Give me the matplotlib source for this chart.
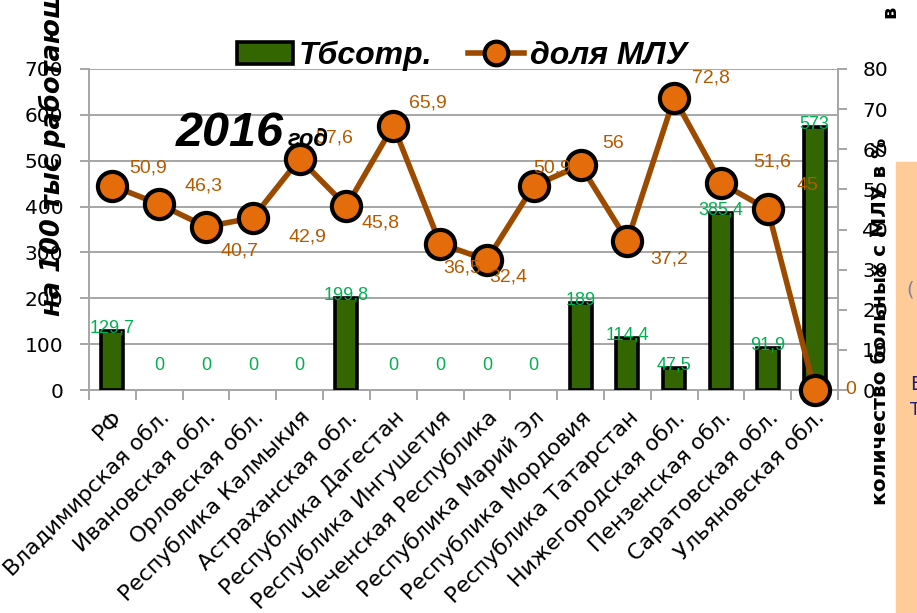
import numpy as np
import matplotlib.pyplot as plt
from matplotlib.patches import Patch, Rectangle
from matplotlib.lines import Line2D

# --- данные ---
regions = ["РФ", "Владимирская обл.", "Ивановская обл.", "Орловская обл.",
           "Республика Калмыкия", "Астраханская обл.", "Республика Дагестан",
           "Республика Ингушетия", "Чеченская Республика", "Республика Марий Эл",
           "Республика Мордовия", "Республика Татарстан", "Нижегородская обл.",
           "Пензенская обл.", "Саратовская обл.", "Ульяновская обл."]
tb_sotr = [129.7, 0, 0, 0, 0, 199.8, 0, 0, 0, 0, 189, 114.4, 47.5, 385.4, 91.9, 573]
mlu_share = [50.9, 46.3, 40.7, 42.9, 57.6, 45.8, 65.9, 36.5, 32.4, 50.9,
             56, 37.2, 72.8, 51.6, 45, 0]
# смещения подписей доли МЛУ (пиксели)
share_lbl_dx = [36, 44, 33, 55, 35, 34, 35, 22, 21, 18, 33, 42, 37, 51, 40, 36]
share_lbl_dy = [18, 18, -24, -19, 21, -17, 23, -24, -17, 18, 22, -18, 20, 21, 24, 0]

GREEN = '#336600'
BROWN_LINE = '#9C4A00'
ORANGE = '#E46C0A'
BROWN_TXT = '#B35A00'
LBL_GREEN = '#00B050'
GRID = '#A6A6A6'
CAL = 'Liberation Sans'

fig = plt.figure(figsize=(9.17, 6.13), dpi=100)
fig.patches.append(Rectangle((896 / 917, 0), 21 / 917, 1 - 162 / 613,
                             transform=fig.transFigure, color='#FFCC99', zorder=0))

ax = fig.add_axes([89 / 917, 1 - 390 / 613, 749 / 917, 321 / 613])
x = np.arange(len(regions))

bars = ax.bar(x, tb_sotr, width=0.47, color=GREEN, edgecolor='black', linewidth=2.6, zorder=3)
for b, v in zip(bars, tb_sotr):
    if v == 0:
        b.set_visible(False)
ax.set_xlim(-0.5, len(regions) - 0.5)
ax.set_ylim(0, 700)
ax.set_yticks(np.arange(0, 701, 100))
ax.grid(axis='y', color=GRID, linewidth=1.4)
ax.set_axisbelow(True)
for s in ['left', 'bottom', 'right']:
    ax.spines[s].set_color(GRID)
    ax.spines[s].set_linewidth(1.4)
ax.spines['top'].set_visible(False)
ax.tick_params(axis='y', length=6.5, width=1.4, color=GRID, labelsize=14.5, pad=12)
ax.set_xticks(x)
ax.set_xticklabels(regions, rotation=45, ha='right', rotation_mode='anchor', fontsize=15.8)
ax.tick_params(axis='x', which='major', length=0, pad=12)
ax.set_xticks(np.arange(-0.5, len(regions), 1), minor=True)
ax.tick_params(axis='x', which='minor', length=7, width=1.4, color=GRID)

for xi, v in zip(x, tb_sotr):
    txt = f"{v:g}".replace('.', ',')
    off = 3 if v > 0 else 24
    ax.annotate(txt, (xi, v), xytext=(0, off), textcoords='offset pixels',
                ha='center', va='center', color=LBL_GREEN, fontsize=13,
                family=CAL, zorder=6)

ax2 = ax.twinx()
ax2.set_ylim(0, 80)
ax2.set_yticks(np.arange(0, 81, 10))
ax2.spines['top'].set_visible(False)
ax2.spines['right'].set_color(GRID)
ax2.spines['right'].set_linewidth(1.4)
ax2.spines['left'].set_visible(False)
ax2.spines['bottom'].set_visible(False)
ax2.tick_params(axis='y', length=6.5, width=1.4, color=GRID, labelsize=14.5, pad=11)
ax2.plot(x, mlu_share, color=BROWN_LINE, linewidth=4, marker='o', markersize=21,
         markerfacecolor=ORANGE, markeredgecolor='black', markeredgewidth=3,
         clip_on=False, zorder=5)

for xi, v, dx, dy in zip(x, mlu_share, share_lbl_dx, share_lbl_dy):
    ax2.annotate(f"{v:g}".replace('.', ','), (xi, v), xytext=(dx, dy),
                 textcoords='offset pixels', ha='center', va='center',
                 color=BROWN_TXT, fontsize=14, family=CAL, zorder=7,
                 annotation_clip=False)

# заголовок
fig.text(176 / 917, 1 - 146 / 613, "2016", fontsize=35, fontweight='bold',
         fontstyle='italic', family=CAL, va='baseline', ha='left')
fig.text(288 / 917, 1 - 146 / 613, "год", fontsize=17, fontweight='bold',
         fontstyle='italic', family=CAL, va='baseline', ha='left')

# подписи осей
fig.text(52 / 917, 1 - 316 / 613, "на 100 тыс работающих", rotation=90,
         fontsize=18.5, fontweight='bold', fontstyle='italic',
         ha='center', va='bottom')
fig.text(880 / 917, 1 - 505 / 613, "количество больных с МЛУ в %", rotation=90,
         fontsize=14.5, fontweight='bold', ha='center', va='bottom')
fig.text(890 / 917, 1 - 12 / 613, "в", rotation=90, fontsize=14,
         fontweight='bold', ha='center', va='center')
fig.text(906 / 917, 1 - 290 / 613, "(", fontsize=14, color='#7F7FAA',
         ha='left', va='center')
fig.text(910 / 917, 1 - 385 / 613, "Б", fontsize=14, color='#1F1F7A',
         ha='left', va='center')
fig.text(910 / 917, 1 - 410 / 613, "Т", fontsize=12, color='#1F1F7A',
         ha='left', va='center')

# легенда
handles = [Patch(facecolor=GREEN, edgecolor='black', linewidth=2.6),
           Line2D([], [], color=BROWN_LINE, linewidth=4, marker='o', markersize=17,
                  markerfacecolor=ORANGE, markeredgecolor='black', markeredgewidth=3)]
fig.legend(handles, ["Тбсотр.", "доля МЛУ"], loc='center', ncol=2,
           bbox_to_anchor=(462 / 917, 1 - 56 / 613), frameon=False,
           prop={'family': CAL, 'size': 23, 'weight': 'bold', 'style': 'italic'},
           handlelength=1.75, handleheight=0.7, handletextpad=0.2, columnspacing=1.1)

fig.savefig("out.png", dpi=100)
